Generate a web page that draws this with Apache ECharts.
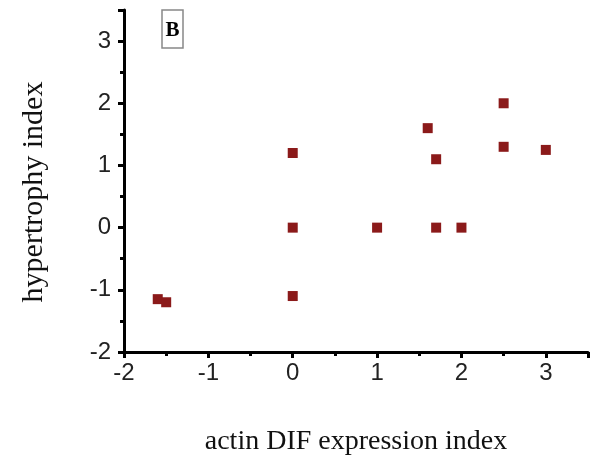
<!DOCTYPE html>
<html>
<head>
<meta charset="utf-8">
<script src="https://cdn.jsdelivr.net/npm/echarts@6/dist/echarts.min.js"></script>
<style>html,body{margin:0;padding:0;background:#fff;}#c{width:595px;height:459px;}</style>
</head>
<body>
<div id="c"></div>
<script>
const xValues = [-1.6, -1.5, 0, 0, 0, 1, 1.6, 1.7, 1.7, 2, 2.5, 2.5, 3];
const yValues = [-1.15, -1.2, 1.2, 0, -1.1, 0, 1.6, 1.1, 0, 0, 2.0, 1.3, 1.25];
const xTickLabels = ['-2', '-1', '0', '1', '2', '3'];
const yTickLabels = ['-2', '-1', '0', '1', '2', '3'];
const panelLabel = 'B';
const xTitle = 'actin DIF expression index';
const yTitle = 'hypertrophy index';

const points = xValues.map((x, i) => [x, yValues[i]]);
const chart = echarts.init(document.getElementById('c'));
const axisCommon = {
  type: 'value',
  interval: 1,
  splitLine: { show: false },
  axisLine: { show: true, onZero: false, lineStyle: { color: '#000', width: 3 } },
  axisTick: { show: true, inside: false, length: 6, lineStyle: { color: '#000', width: 3 } },
  minorTick: { show: true, splitNumber: 2, length: 4, lineStyle: { color: '#000', width: 3 } },
  axisLabel: { color: '#222', fontFamily: 'Liberation Sans, Arial, sans-serif', fontSize: 24 }
};
chart.setOption({
  animation: false,
  grid: { left: 124, top: 10, right: 7, bottom: 107, containLabel: false, outerBoundsMode: 'none' },
  xAxis: Object.assign({}, axisCommon, {
    min: -2, max: 3.5,
    name: xTitle, nameLocation: 'middle', nameGap: 76,
    nameTextStyle: { color: '#111', fontFamily: 'Liberation Serif, Times New Roman, serif', fontSize: 28 },
    axisLabel: Object.assign({}, axisCommon.axisLabel, {
      margin: 9,
      formatter: v => xTickLabels.includes(String(v)) ? String(v) : ''
    })
  }),
  yAxis: Object.assign({}, axisCommon, {
    min: -2, max: 3.5,
    name: yTitle, nameLocation: 'middle', nameGap: 75,
    nameTextStyle: { color: '#111', fontFamily: 'Liberation Serif, Times New Roman, serif', fontSize: 30, padding: [0, 22, 0, 0] },
    axisLabel: Object.assign({}, axisCommon.axisLabel, {
      margin: 13,
      formatter: v => yTickLabels.includes(String(v)) ? String(v) : ''
    })
  }),
  graphic: [
    { type: 'rect', shape: { x: 162, y: 10, width: 21, height: 38 }, style: { fill: '#fff', stroke: '#888', lineWidth: 1.5 } },
    { type: 'text', x: 172.5, y: 31, style: { text: panelLabel, fill: '#000', font: 'bold 21px "Liberation Serif", serif', align: 'center', verticalAlign: 'middle' } }
  ],
  series: [{
    type: 'scatter',
    data: points,
    symbol: 'rect',
    symbolSize: 10,
    itemStyle: { color: '#8B1A1A', opacity: 1 }
  }]
});
</script>
</body>
</html>
